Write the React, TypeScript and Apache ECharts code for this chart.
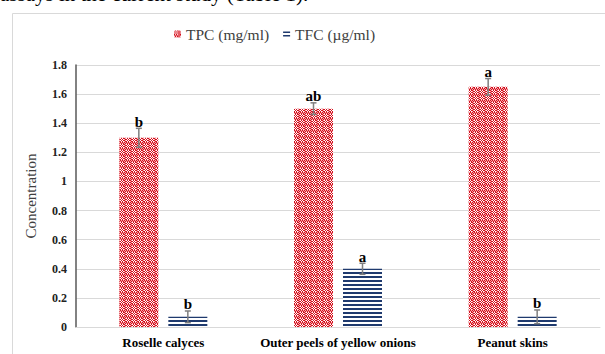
import React, { useEffect, useRef } from 'react';
import * as echarts from 'echarts';

const categories = ['Roselle calyces', 'Outer peels of yellow onions', 'Peanut skins'];
const seriesNames = ['TPC (mg/ml)', 'TFC (µg/ml)'];
const tpcValues = [1.3, 1.5, 1.65];
const tpcErrors = [0.065, 0.04, 0.057];
const tpcLetters = ['b', 'ab', 'a'];
const tfcValues = [0.07, 0.4, 0.07];
const tfcErrors = [0.04, 0.038, 0.047];
const tfcLetters = ['b', 'a', 'b'];
const yMin = 0;
const yMax = 1.8;
const yInterval = 0.2;
const captionText = 'assays in the current study (Table 1).';

const SERIF = 'Liberation Serif, Times New Roman, serif';
const BAR_W = 39;
const GAP_PX = 10;

function makeTpcPattern(): HTMLCanvasElement {
  const c = document.createElement('canvas');
  c.width = 6;
  c.height = 6;
  const ctx = c.getContext('2d')!;
  ctx.fillStyle = '#d40f1c';
  ctx.fillRect(0, 0, 6, 6);
  for (let y = 0; y < 6; y++) {
    for (let x = 0; x < 6; x++) {
      if (x < 4 && y < 4 && (x + y) % 2 === 0) {
        ctx.fillStyle = '#ffffff';
        ctx.fillRect(x, y, 1, 1);
      } else if ((x >= 4 || y >= 4) && (x + y) % 2 === 1) {
        ctx.fillStyle = '#f3a5aa';
        ctx.fillRect(x, y, 1, 1);
      }
    }
  }
  return c;
}

function makeTfcPattern(): HTMLCanvasElement {
  const c = document.createElement('canvas');
  c.width = 4;
  c.height = 4;
  const ctx = c.getContext('2d')!;
  ctx.fillStyle = '#ffffff';
  ctx.fillRect(0, 0, 4, 4);
  ctx.fillStyle = '#1f3a6e';
  ctx.fillRect(0, 0, 4, 2);
  return c;
}

function errorSeries(values: number[], errors: number[], letters: string[], sign: number) {
  return {
    type: 'custom',
    z: 10,
    silent: true,
    data: values.map((v, i) => [i, v, errors[i]]),
    encode: { x: 0, y: 1 },
    renderItem: (params: any, api: any) => {
      const i = api.value(0);
      const v = api.value(1);
      const e = api.value(2);
      const off = sign * (BAR_W / 2 + GAP_PX / 2);
      const top = api.coord([i, v + e]);
      const bot = api.coord([i, v - e]);
      const x = top[0] + off;
      const capW = 3;
      const lineStyle = { stroke: '#7f7f7f', lineWidth: 1.5 };
      return {
        type: 'group',
        children: [
          { type: 'line', shape: { x1: x, y1: top[1], x2: x, y2: bot[1] }, style: lineStyle },
          { type: 'line', shape: { x1: x - capW, y1: top[1], x2: x + capW, y2: top[1] }, style: lineStyle },
          { type: 'line', shape: { x1: x - capW, y1: bot[1], x2: x + capW, y2: bot[1] }, style: lineStyle },
          {
            type: 'text',
            x: x,
            y: top[1] + 1,
            style: {
              text: letters[params.dataIndex],
              fontFamily: SERIF,
              fontWeight: 'bold',
              fontSize: 15,
              fill: '#000000',
              align: 'center',
              verticalAlign: 'bottom',
            },
          },
        ],
      };
    },
  };
}

export default function App() {
  const ref = useRef<HTMLDivElement>(null);

  useEffect(() => {
    if (!ref.current) return;
    const chart = echarts.init(ref.current, null, { renderer: 'svg' });
    const tpcFill = { image: makeTpcPattern(), repeat: 'repeat' };
    const tfcFill = { image: makeTfcPattern(), repeat: 'repeat' };
    chart.setOption({
      animation: false,
      backgroundColor: '#ffffff',
      graphic: [
        {
          type: 'text',
          x: 0,
          y: 4,
          silent: true,
          style: {
            text: captionText,
            fontFamily: SERIF,
            fontSize: 21,
            fill: '#000000',
            verticalAlign: 'bottom',
          },
        },
        {
          type: 'rect',
          shape: { x: 12.5, y: 13.5, width: 700, height: 400 },
          silent: true,
          style: { fill: 'none', stroke: '#d9d9d9', lineWidth: 1 },
        },
      ],
      legend: {
        left: 169,
        top: 21,
        itemGap: 14,
        itemWidth: 7,
        itemHeight: 7,
        selectedMode: false,
        textStyle: { fontFamily: SERIF, fontSize: 15.5, color: '#404040' },
        data: [
          { name: seriesNames[0], icon: 'rect' },
          {
            name: seriesNames[1],
            icon: 'path://M0,0H10V2H0Z M0,5H10V7H0Z',
            itemStyle: { color: '#1f3a6e' },
          },
        ],
      },
      grid: {
        left: 76,
        right: 5,
        top: 65,
        bottom: 27,
        containLabel: false,
        outerBoundsMode: 'none',
      },
      xAxis: {
        type: 'category',
        data: categories,
        axisLine: { show: true, lineStyle: { color: '#d9d9d9', width: 1 } },
        axisTick: { show: false },
        axisLabel: {
          margin: 9,
          fontFamily: SERIF,
          fontWeight: 'bold',
          fontSize: 13,
          color: '#000000',
          interval: 0,
        },
      },
      yAxis: {
        type: 'value',
        min: yMin,
        max: yMax,
        interval: yInterval,
        name: 'Concentration',
        nameLocation: 'middle',
        nameGap: 38,
        nameTextStyle: { fontFamily: SERIF, fontSize: 15, color: '#404040' },
        axisLine: { show: true, lineStyle: { color: '#595959', width: 1.5 } },
        axisTick: { show: false },
        axisLabel: {
          margin: 9,
          fontFamily: SERIF,
          fontWeight: 'bold',
          fontSize: 12,
          color: '#222222',
        },
        splitLine: { show: true, lineStyle: { color: '#d9d9d9', width: 1 } },
      },
      series: [
        {
          name: seriesNames[0],
          type: 'bar',
          data: tpcValues,
          barWidth: BAR_W,
          barGap: `${(GAP_PX / BAR_W) * 100}%`,
          itemStyle: { color: tpcFill },
        },
        {
          name: seriesNames[1],
          type: 'bar',
          data: tfcValues,
          barWidth: BAR_W,
          barGap: `${(GAP_PX / BAR_W) * 100}%`,
          itemStyle: { color: tfcFill },
        },
        errorSeries(tpcValues, tpcErrors, tpcLetters, -1),
        errorSeries(tfcValues, tfcErrors, tfcLetters, 1),
      ],
    });
    return () => chart.dispose();
  }, []);

  return (
    <div
      ref={ref}
      style={{ position: 'fixed', left: 0, top: 0, width: 605, height: 354, background: '#fff' }}
    />
  );
}
